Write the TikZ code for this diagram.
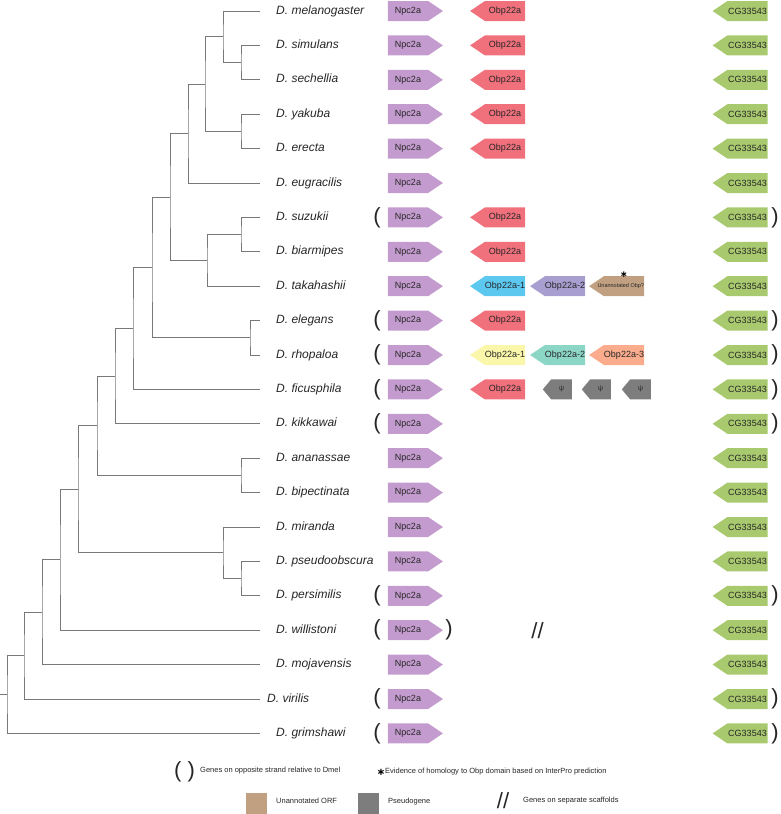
\documentclass[tikz,border=0pt]{standalone}
\usepackage{fontspec}
\setmainfont{Liberation Sans}
\newfontfamily\symfont{DejaVu Sans}
\usetikzlibrary{shapes.symbols,calc,positioning}
\definecolor{treegray}{RGB}{120,120,120}
\definecolor{npc}{RGB}{196,155,206}
\definecolor{obp}{RGB}{240,112,124}
\definecolor{cg}{RGB}{168,201,110}
\definecolor{obpcyan}{RGB}{92,200,240}
\definecolor{obplav}{RGB}{168,158,208}
\definecolor{orf}{RGB}{192,160,128}
\definecolor{obpyel}{RGB}{250,246,170}
\definecolor{obpteal}{RGB}{140,214,198}
\definecolor{obpsal}{RGB}{250,172,140}
\definecolor{pseudogray}{RGB}{125,125,125}
\tikzset{
    branch/.style={draw=treegray, line width=0.8pt},
    species/.style={font=\fontsize{12}{14}\selectfont\itshape, text=black!85, anchor=west,
        inner xsep=0pt, text height=1.6ex, text depth=0.4ex},
    gene/.style={signal, minimum height=20pt, minimum width=55pt, inner sep=0pt,
        signal pointer angle=68, font=\fontsize{9}{10}\selectfont, text=black!85},
    fwd/.style={gene, signal to=east, fill=#1},
    rev/.style={gene, signal to=west, fill=#1},
    pseudo/.style={gene, signal to=west, fill=pseudogray, minimum width=29pt,
        signal pointer angle=100, font=\fontsize{7}{8}\selectfont},
    paren/.style={font=\fontsize{22}{24}\selectfont, inner sep=0pt, text=black!85},
    starmark/.style={font=\symfont\bfseries\fontsize{#1}{#1}\selectfont, inner sep=0pt},
    legtext/.style={font=\fontsize{7.5}{9}\selectfont, text=black!85, anchor=west, inner xsep=0pt},
    legbox/.style={minimum size=21pt, inner sep=0pt, fill=#1}
}
\newcommand{\clade}[4]{%
    \path ($(#3)!0.5!(#4)$) coordinate (#1m);
    \coordinate (#1) at (#2,0 |- #1m);
    \draw[branch] (#3) -| (#1) |- (#4);
}

\begin{document}
\begin{tikzpicture}[x=1pt,y=-1pt]
        \useasboundingbox (0,0) rectangle (780,814);
        \coordinate (lp) at (377,0);
        \coordinate (c1) at (505,0);
        \coordinate (c2) at (565,0);
        \coordinate (c3) at (624,0);
        \coordinate (rp) at (775,0);

        \foreach \sp/\nm/\gap [count=\i from 0] in {mel/melanogaster/16pt, sim/simulans/16pt,
            sec/sechellia/16pt, yak/yakuba/16pt, ere/erecta/16pt, eug/eugracilis/16pt,
            suz/suzukii/16pt, bia/biarmipes/16pt, tak/takahashii/16pt, ele/elegans/16pt,
            rho/rhopaloa/16pt, fic/ficusphila/16pt, kik/kikkawai/16pt, ana/ananassae/16pt,
            bip/bipectinata/16pt, mir/miranda/16pt, pse/pseudoobscura/16pt, per/persimilis/16pt,
            wil/willistoni/16pt, moj/mojavensis/16pt, vir/virilis/7pt, gri/grimshawi/16pt} {
            \coordinate (\sp) at (260,11+34.4*\i);
            \node[species, right=\gap of \sp] (l-\sp) {D. \nm};
            \node[fwd=npc] (npc-\sp) at (408,11+34.4*\i) {Npc2a};
            \node[rev=cg] (cg-\sp) at (747.5,11+34.4*\i) {CG33543};
        }

        \clade{simsec}{241}{sim}{sec}
        \clade{melsub}{223}{mel}{simsec}
        \clade{yakere}{241}{yak}{ere}
        \clade{melgrp}{205}{melsub}{yakere}
        \clade{eugn}{188}{melgrp}{eug}
        \clade{suzbia}{241}{suz}{bia}
        \clade{suzgrp}{207}{suzbia}{tak}
        \clade{melsuz}{170}{eugn}{suzgrp}
        \clade{elerho}{250}{ele}{rho}
        \clade{orient}{152}{melsuz}{elerho}
        \clade{ficn}{133}{orient}{fic}
        \clade{kikn}{115}{ficn}{kik}
        \clade{anabip}{241}{ana}{bip}
        \clade{melano}{97}{kikn}{anabip}
        \clade{pseper}{241}{pse}{per}
        \clade{obsc}{223}{mir}{pseper}
        \clade{sopho}{78}{melano}{obsc}
        \clade{wiln}{60}{sopho}{wil}
        \clade{mojn}{42}{wiln}{moj}
        \clade{virn}{24}{mojn}{vir}
        \clade{root}{7}{virn}{gri}
        \draw[branch] (root) -- ++(-7,0);

        \foreach \sp in {mel,sim,sec,yak,ere,suz,bia,ele,fic}
            \node[rev=obp] (obp-\sp) at (c1 |- \sp) {Obp22a};

        \node[rev=obpcyan] (obp1-tak) at (c1 |- tak) {Obp22a-1};
        \node[rev=obplav] (obp2-tak) at (c2 |- tak) {Obp22a-2};
        \node[rev=orf, font=\fontsize{5.5}{6}\selectfont] (una-tak) at (c3 |- tak)
            {\makebox[40pt][r]{Unannotated Obp?}};
        \node[starmark=9] (star) at ([yshift=1.5pt]una-tak.north) {∗};

        \node[rev=obpyel] (obp1-rho) at (c1 |- rho) {Obp22a-1};
        \node[rev=obpteal] (obp2-rho) at (c2 |- rho) {Obp22a-2};
        \node[rev=obpsal] (obp3-rho) at (c3 |- rho) {Obp22a-3};

        \node[pseudo] (psi1-fic) at (561.5,0 |- fic) {ψ};
        \node[pseudo] (psi2-fic) at (600.5,0 |- fic) {ψ};
        \node[pseudo] (psi3-fic) at (640.5,0 |- fic) {ψ};

        \foreach \sp in {suz,ele,rho,fic,kik,per,wil,vir,gri}
            \node[paren] (lp-\sp) at (lp |- \sp) {(};
        \foreach \sp in {suz,ele,rho,fic,kik,per,vir,gri}
            \node[paren] (rp-\sp) at (rp |- \sp) {)};
        \node[paren] (rp-wil) at (449,0 |- wil) {)};
        \node[paren] (split-wil) at (537.5,0 |- wil) {//};

        \node[paren] (leg-par) at (184.5,772) {( )};
        \node[legtext] (leg-strand) at (200,771) {Genes on opposite strand relative to Dmel};
        \node[starmark=10] (leg-star) at (381,772) {∗};
        \node[legtext] (leg-startext) at (385,772)
            {Evidence of homology to Obp domain based on InterPro prediction};
        \node[legbox=orf] (leg-orf) at (256.5,803.5) {};
        \node[legtext] (leg-orftext) at (276,801) {Unannotated ORF};
        \node[legbox=pseudogray] (leg-pseudo) at (368.5,803.5) {};
        \node[legtext] (leg-pseudotext) at (388,802) {Pseudogene};
        \node[paren] (leg-split) at (503,801) {//};
        \node[legtext] (leg-splittext) at (523,801) {Genes on separate scaffolds};
    \end{tikzpicture}
\end{document}
